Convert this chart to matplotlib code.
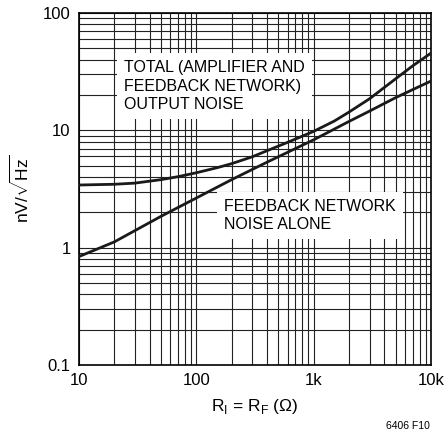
import matplotlib.pyplot as plt
from matplotlib.ticker import LogLocator, FixedLocator, NullFormatter

plt.rcParams['font.family'] = ['Liberation Sans', 'DejaVu Sans']
plt.rcParams['mathtext.fontset'] = 'custom'
plt.rcParams['mathtext.rm'] = 'Liberation Sans'

# resistance (ohm) and noise (nV/rtHz)
r_total = [10, 20, 30, 50, 70, 100, 150, 200, 300, 400, 600, 1000,
           1500, 2000, 3000, 5000, 7000, 10000]
n_total = [3.42, 3.47, 3.55, 3.8, 4.03, 4.35, 4.8, 5.2, 5.95, 6.7, 7.9, 9.8,
           12.0, 14.3, 18.6, 27.5, 35.5, 45.5]

r_fb = [10, 20, 50, 100, 200, 400, 1000, 2000, 3000, 5000, 10000]
n_fb = [0.84, 1.12, 1.85, 2.65, 3.8, 5.35, 8.3, 11.9, 14.6, 19.0, 26.3]

x_ticks = [10, 100, 1000, 10000]
x_labels = ['10', '100', '1k', '10k']
y_ticks = [0.1, 1, 10, 100]
y_labels = ['0.1', '1', '10', '100']

fig = plt.figure(figsize=(4.45, 4.33), dpi=100)
ax = fig.add_axes([0.1775, 0.157, 0.791, 0.813])

ax.plot(r_total, n_total, color='#1a1a1a', lw=2.0, zorder=4, solid_joinstyle='round')
ax.plot(r_fb, n_fb, color='#1a1a1a', lw=2.0, zorder=4, solid_joinstyle='round')

ax.set_xscale('log')
ax.set_yscale('log')
ax.set_xlim(10, 10000)
ax.set_ylim(0.1, 100)

ax.xaxis.set_major_locator(FixedLocator(x_ticks))
ax.set_xticklabels(x_labels)
ax.yaxis.set_major_locator(FixedLocator(y_ticks))
ax.set_yticklabels(y_labels)
ax.xaxis.set_minor_locator(LogLocator(base=10, subs=range(2, 10)))
ax.yaxis.set_minor_locator(LogLocator(base=10, subs=range(2, 10)))
ax.xaxis.set_minor_formatter(NullFormatter())
ax.yaxis.set_minor_formatter(NullFormatter())
ax.tick_params(which='both', length=0, labelsize=12, pad=6)

ax.grid(True, which='both', color='#222222', lw=0.8)
ax.set_axisbelow(True)
for s in ax.spines.values():
    s.set_linewidth(1.2)

ax.set_xlabel(r'R$_\mathregular{I}$ = R$_\mathregular{F}$ ($\Omega$)', fontsize=12.5, labelpad=6)
ax.set_ylabel(r'nV/$\sqrt{\mathregular{Hz}}$', fontsize=12.5, labelpad=8)

box = dict(facecolor='white', edgecolor='none', pad=5)
ax.text(0.128, 0.866, 'TOTAL (AMPLIFIER AND\nFEEDBACK NETWORK)\nOUTPUT NOISE',
        transform=ax.transAxes, fontsize=11.5, va='top', ha='left',
        linespacing=1.3, bbox=box, zorder=3)
ax.text(0.412, 0.472, 'FEEDBACK NETWORK\nNOISE ALONE',
        transform=ax.transAxes, fontsize=11.5, va='top', ha='left',
        linespacing=1.3, bbox=box, zorder=3)

fig.text(0.966, 0.004, '6406 F10', fontsize=7.5, ha='right', va='bottom')

fig.savefig('out.png', dpi=100)
